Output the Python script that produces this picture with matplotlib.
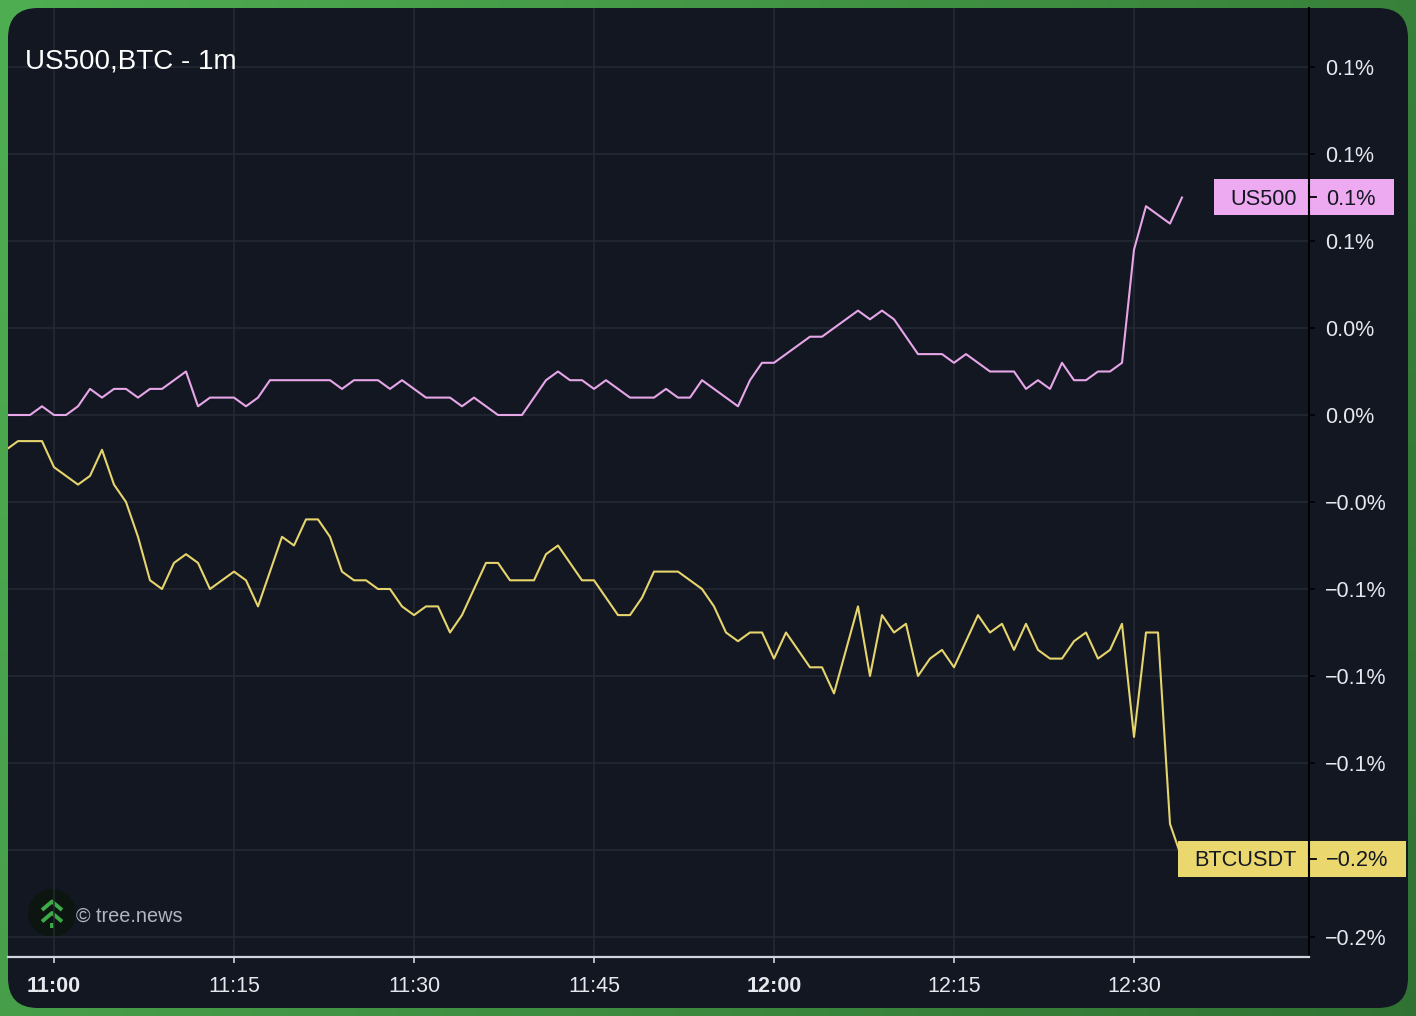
import numpy as np
import matplotlib
matplotlib.use("Agg")
import matplotlib.pyplot as plt
from matplotlib.patches import FancyBboxPatch, Rectangle, Circle
from matplotlib.lines import Line2D
import matplotlib.transforms as mtransforms

plt.rcParams['font.family'] = ['Liberation Sans', 'DejaVu Sans']

# ---------------- data ----------------
title = "US500,BTC - 1m"
series_names = ["US500", "BTCUSDT"]
minutes = list(range(-4, 95))  # minutes after 11:00

us500 = [0.000, 0.000, 0.000, 0.003,
         0.000, 0.000, 0.003, 0.009, 0.006, 0.009, 0.009, 0.006, 0.009, 0.009,
         0.012, 0.015, 0.003, 0.006, 0.006, 0.006, 0.003, 0.006, 0.012, 0.012,
         0.012, 0.012, 0.012, 0.012, 0.009, 0.012, 0.012, 0.012, 0.009, 0.012,
         0.009, 0.006, 0.006, 0.006, 0.003, 0.006, 0.003, 0.000, 0.000, 0.000,
         0.006, 0.012, 0.015, 0.012, 0.012, 0.009, 0.012, 0.009, 0.006, 0.006,
         0.006, 0.009, 0.006, 0.006, 0.012, 0.009, 0.006, 0.003, 0.012, 0.018,
         0.018, 0.021, 0.024, 0.027, 0.027, 0.030, 0.033, 0.036, 0.033, 0.036,
         0.033, 0.027, 0.021, 0.021, 0.021, 0.018, 0.021, 0.018, 0.015, 0.015,
         0.015, 0.009, 0.012, 0.009, 0.018, 0.012, 0.012, 0.015, 0.015, 0.018,
         0.057, 0.072, 0.069, 0.066, 0.075]

btcusdt = [-0.012, -0.009, -0.009, -0.009,
           -0.018, -0.021, -0.024, -0.021, -0.012, -0.024, -0.030, -0.042, -0.057, -0.060,
           -0.051, -0.048, -0.051, -0.060, -0.057, -0.054, -0.057, -0.066, -0.054, -0.042,
           -0.045, -0.036, -0.036, -0.042, -0.054, -0.057, -0.057, -0.060, -0.060, -0.066,
           -0.069, -0.066, -0.066, -0.075, -0.069, -0.060, -0.051, -0.051, -0.057, -0.057,
           -0.057, -0.048, -0.045, -0.051, -0.057, -0.057, -0.063, -0.069, -0.069, -0.063,
           -0.054, -0.054, -0.054, -0.057, -0.060, -0.066, -0.075, -0.078, -0.075, -0.075,
           -0.084, -0.075, -0.081, -0.087, -0.087, -0.096, -0.081, -0.066, -0.090, -0.069,
           -0.075, -0.072, -0.090, -0.084, -0.081, -0.087, -0.078, -0.069, -0.075, -0.072,
           -0.081, -0.072, -0.081, -0.084, -0.084, -0.078, -0.075, -0.084, -0.081, -0.072,
           -0.111, -0.075, -0.075, -0.141, -0.153]

x_tick_minutes = [0, 15, 30, 45, 60, 75, 90]
x_tick_labels = ["11:00", "11:15", "11:30", "11:45", "12:00", "12:15", "12:30"]
bold_ticks = {"11:00", "12:00"}
y_tick_values = [0.12, 0.09, 0.06, 0.03, 0.0, -0.03, -0.06, -0.09, -0.12, -0.15, -0.18]

# ---------------- style ----------------
W, H = 1416, 1016
BG = '#131722'
GRID = '#262a35'
TXT = '#e6e8ee'
PINK_LINE = '#e6a6e8'
YEL_LINE = '#e6d46c'
PINK_TAG = '#eeaaf0'
YEL_TAG = '#ead76d'


def pct(v):
    return f"{v:.1f}%".replace('-', '\u2212')


fig = plt.figure(figsize=(W / 100, H / 100), dpi=100)

# background: green gradient frame + rounded dark panel
bg = fig.add_axes([0, 0, 1, 1], zorder=-5)
bg.set_xlim(0, W)
bg.set_ylim(0, H)
bg.axis('off')
gx, gy = np.meshgrid(np.linspace(0, 1, 128), np.linspace(0, 1, 128))
t = np.clip(0.75 * gx + 0.25 * gy, 0, 1)[..., None]
c0 = np.array([0.31, 0.68, 0.32])
c1 = np.array([0.19, 0.45, 0.20])
img = c0 * (1 - t) + c1 * t
bg.imshow(img, extent=[0, W, 0, H], aspect='auto', origin='upper', zorder=0)
bg.add_patch(FancyBboxPatch((8, 8), 1400, 1000, boxstyle="round,pad=0,rounding_size=30",
                            facecolor=BG, edgecolor='none', zorder=1))
# logo
bg.add_patch(Circle((52, H - 913), 24, facecolor='#0d1510', edgecolor='none', zorder=2))
LG = '#3cab48'
bg.plot([42, 52, 62], [H - 910, H - 901.5, H - 910], color=LG, lw=2.8, solid_capstyle='butt', zorder=3)
bg.plot([42, 52, 62], [H - 921.5, H - 913, H - 921.5], color=LG, lw=2.8, solid_capstyle='butt', zorder=3)
bg.plot([52, 52], [H - 923, H - 928], color=LG, lw=2.8, solid_capstyle='butt', zorder=3)

# main axes
ax = fig.add_axes([8 / W, 59 / H, 1301 / W, 949 / H])
ax.set_facecolor('none')
ax.set_xlim(-46 / 12, 1255 / 12)
ax.set_ylim((415 - 957) / 87 * 0.03, (415 - 8) / 87 * 0.03)

ax.plot(minutes, us500, color=PINK_LINE, lw=1.5, zorder=3)
ax.plot(minutes, btcusdt, color=YEL_LINE, lw=1.5, zorder=3)

ax.set_xticks(x_tick_minutes)
ax.set_xticklabels(x_tick_labels)
for lab in ax.get_xticklabels():
    if lab.get_text() in bold_ticks:
        lab.set_fontweight('bold')

tag_h = 36 / 87 * 0.03
last_vals = [us500[-1], btcusdt[-1]]
ax.yaxis.tick_right()
ax.set_yticks(y_tick_values)
# tick labels hidden behind a last-value tag are left blank (as in the reference)
ax.set_yticklabels(['' if any(abs(v - lv) < tag_h / 2 for lv in last_vals) else pct(v)
                    for v in y_tick_values])
ax.grid(True, color=GRID, lw=1.1, zorder=0)
ax.set_axisbelow(True)

for s in ['left', 'top']:
    ax.spines[s].set_visible(False)
ax.spines['bottom'].set_color('#d1d4dc')
ax.spines['bottom'].set_linewidth(1.6)
ax.spines['right'].set_color('black')
ax.spines['right'].set_linewidth(1.5)

ax.tick_params(axis='x', colors='#d1d4dc', length=4, width=1.2, pad=9.5,
               labelsize=15.5, labelcolor=TXT)
ax.tick_params(axis='y', color='black', length=4, width=1.2, pad=7.5,
               labelsize=15.5, labelcolor=TXT)

# title and watermark
fig.text(25 / W, (H - 62) / H, title, ha='left', va='center', fontsize=20, color='white')
fig.text(76 / W, (H - 916) / H, "\u00a9 tree.news", ha='left', va='center', fontsize=14.3,
         color='#b2b5be')

# last-value tags
trans = mtransforms.blended_transform_factory(fig.transFigure, ax.transData)
text_shift = mtransforms.ScaledTranslation(0, -2 / 100, fig.dpi_scale_trans)
tags = [(series_names[0], us500[-1], PINK_TAG, 1214, 180),
        (series_names[1], btcusdt[-1], YEL_TAG, 1178, 228)]
for name, val, col, x0, w in tags:
    fig.add_artist(Rectangle((x0 / W, val - tag_h / 2), w / W, tag_h, transform=trans,
                             facecolor=col, edgecolor='none', zorder=10))
    fig.text(1297 / W, val, name, transform=trans + text_shift, ha='right', va='center',
             fontsize=15.7, color='#131722', zorder=12)
    fig.text(1326 / W, val, pct(val), transform=trans + text_shift, ha='left', va='center',
             fontsize=15.7, color='#131722', zorder=12)
    fig.add_artist(Line2D([1309 / W, 1309 / W], [val - tag_h / 2, val + tag_h / 2],
                          transform=trans, color='black', lw=1.5, zorder=11))
    fig.add_artist(Line2D([1309 / W, 1316 / W], [val, val], transform=trans,
                          color='black', lw=1.3, zorder=11))

fig.savefig('out.png', dpi=100)
